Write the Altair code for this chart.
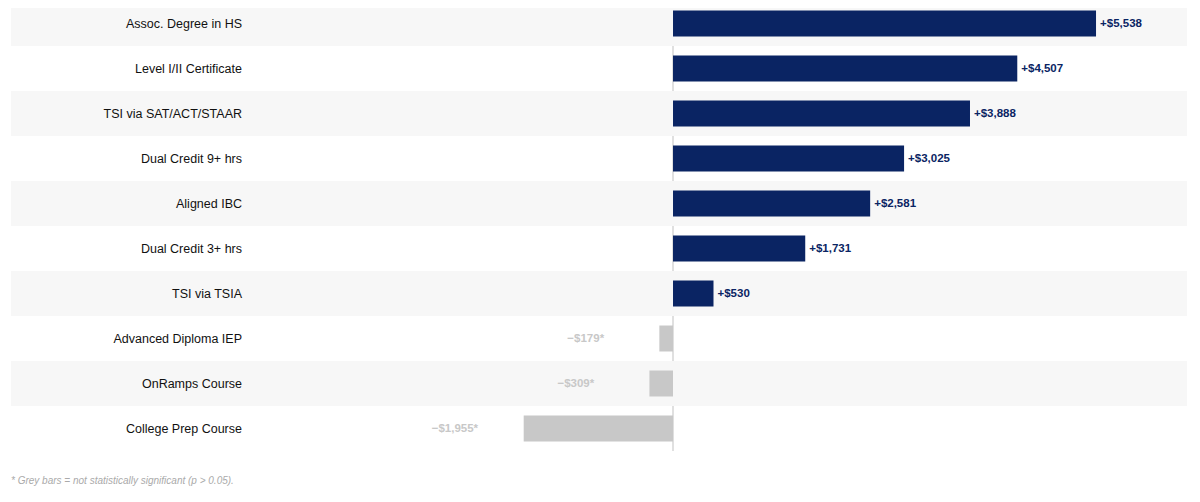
import altair as alt
import pandas as pd

# categories top to bottom, with the dollar difference and significance flag
categories = [
    "Assoc. Degree in HS", "Level I/II Certificate", "TSI via SAT/ACT/STAAR",
    "Dual Credit 9+ hrs", "Aligned IBC", "Dual Credit 3+ hrs", "TSI via TSIA",
    "Advanced Diploma IEP", "OnRamps Course", "College Prep Course",
]
values = [5538, 4507, 3888, 3025, 2581, 1731, 530, -179, -309, -1955]
significant = [True, True, True, True, True, True, True, False, False, False]
labels = ["+$5,538", "+$4,507", "+$3,888", "+$3,025", "+$2,581", "+$1,731",
          "+$530", "\u2212$179*", "\u2212$309*", "\u2212$1,955*"]
shaded = [True, False, True, False, True, False, True, False, True, False]

NAVY = "#0a2463"
GREY = "#c8c8c8"
W, H = 1176, 450

df = pd.DataFrame({
    "cat": categories,
    "value": values,
    "sig": ["yes" if s else "no" for s in significant],
    "label": labels,
    "shade": shaded,
})

y_enc = alt.Y("cat:N", sort=categories, axis=None,
              scale=alt.Scale(paddingInner=0, paddingOuter=0))
x_scale = alt.Scale(domain=[-8667, 6729], nice=False, zero=False)

base = alt.Chart(df)

# zero line sits under the shaded bands, so it only shows in white rows
zero_line = base.mark_rule(color="#e0e0e0", strokeWidth=2).encode(
    x=alt.datum(0, scale=x_scale, axis=None),
    y=alt.value(0),
    y2=alt.value(H),
)

bands = base.transform_filter(alt.datum.shade).mark_rect(color="#f7f7f7").encode(
    y=y_enc,
    x=alt.value(0),
    x2=alt.value(W),
)

bars = base.mark_bar(size=26).encode(
    y=y_enc,
    x=alt.X("value:Q", scale=x_scale, axis=None),
    x2=alt.datum(0),
    color=alt.Color("sig:N", scale=alt.Scale(domain=["yes", "no"], range=[NAVY, GREY]),
                    legend=None),
)

pos_labels = base.transform_filter(alt.datum.value > 0).mark_text(
    align="left", dx=4, fontWeight="bold", fontSize=11.5, font="Liberation Sans",
    color=NAVY,
).encode(y=y_enc, x=alt.X("value:Q", scale=x_scale), text="label:N")

neg_labels = base.transform_filter(alt.datum.value < 0).mark_text(
    align="left", dx=-92, fontWeight="bold", fontSize=11.5, font="Liberation Sans",
    color="#c8c8c8",
).encode(y=y_enc, x=alt.X("value:Q", scale=x_scale), text="label:N")

cat_labels = base.mark_text(
    align="right", fontSize=12.5, font="Liberation Sans", color="#111111",
).encode(y=y_enc, x=alt.value(231), text="cat:N")

footnote = base.transform_filter(alt.datum.cat == categories[0]).mark_text(
    align="left", fontSize=10, fontStyle="italic", font="Liberation Sans",
    color="#aaaaaa", text="* Grey bars = not statistically significant (p > 0.05).",
).encode(x=alt.value(0), y=alt.value(480))

chart = alt.layer(
    zero_line, bands, bars, pos_labels, neg_labels, cat_labels, footnote
).properties(
    width=W, height=H,
    autosize=alt.AutoSizeParams(type="none"),
    padding={"left": 3, "top": -7, "right": 5, "bottom": 44},
).configure_view(stroke=None)

chart.save("out.html", embed_options={"renderer": "svg", "actions": False})
